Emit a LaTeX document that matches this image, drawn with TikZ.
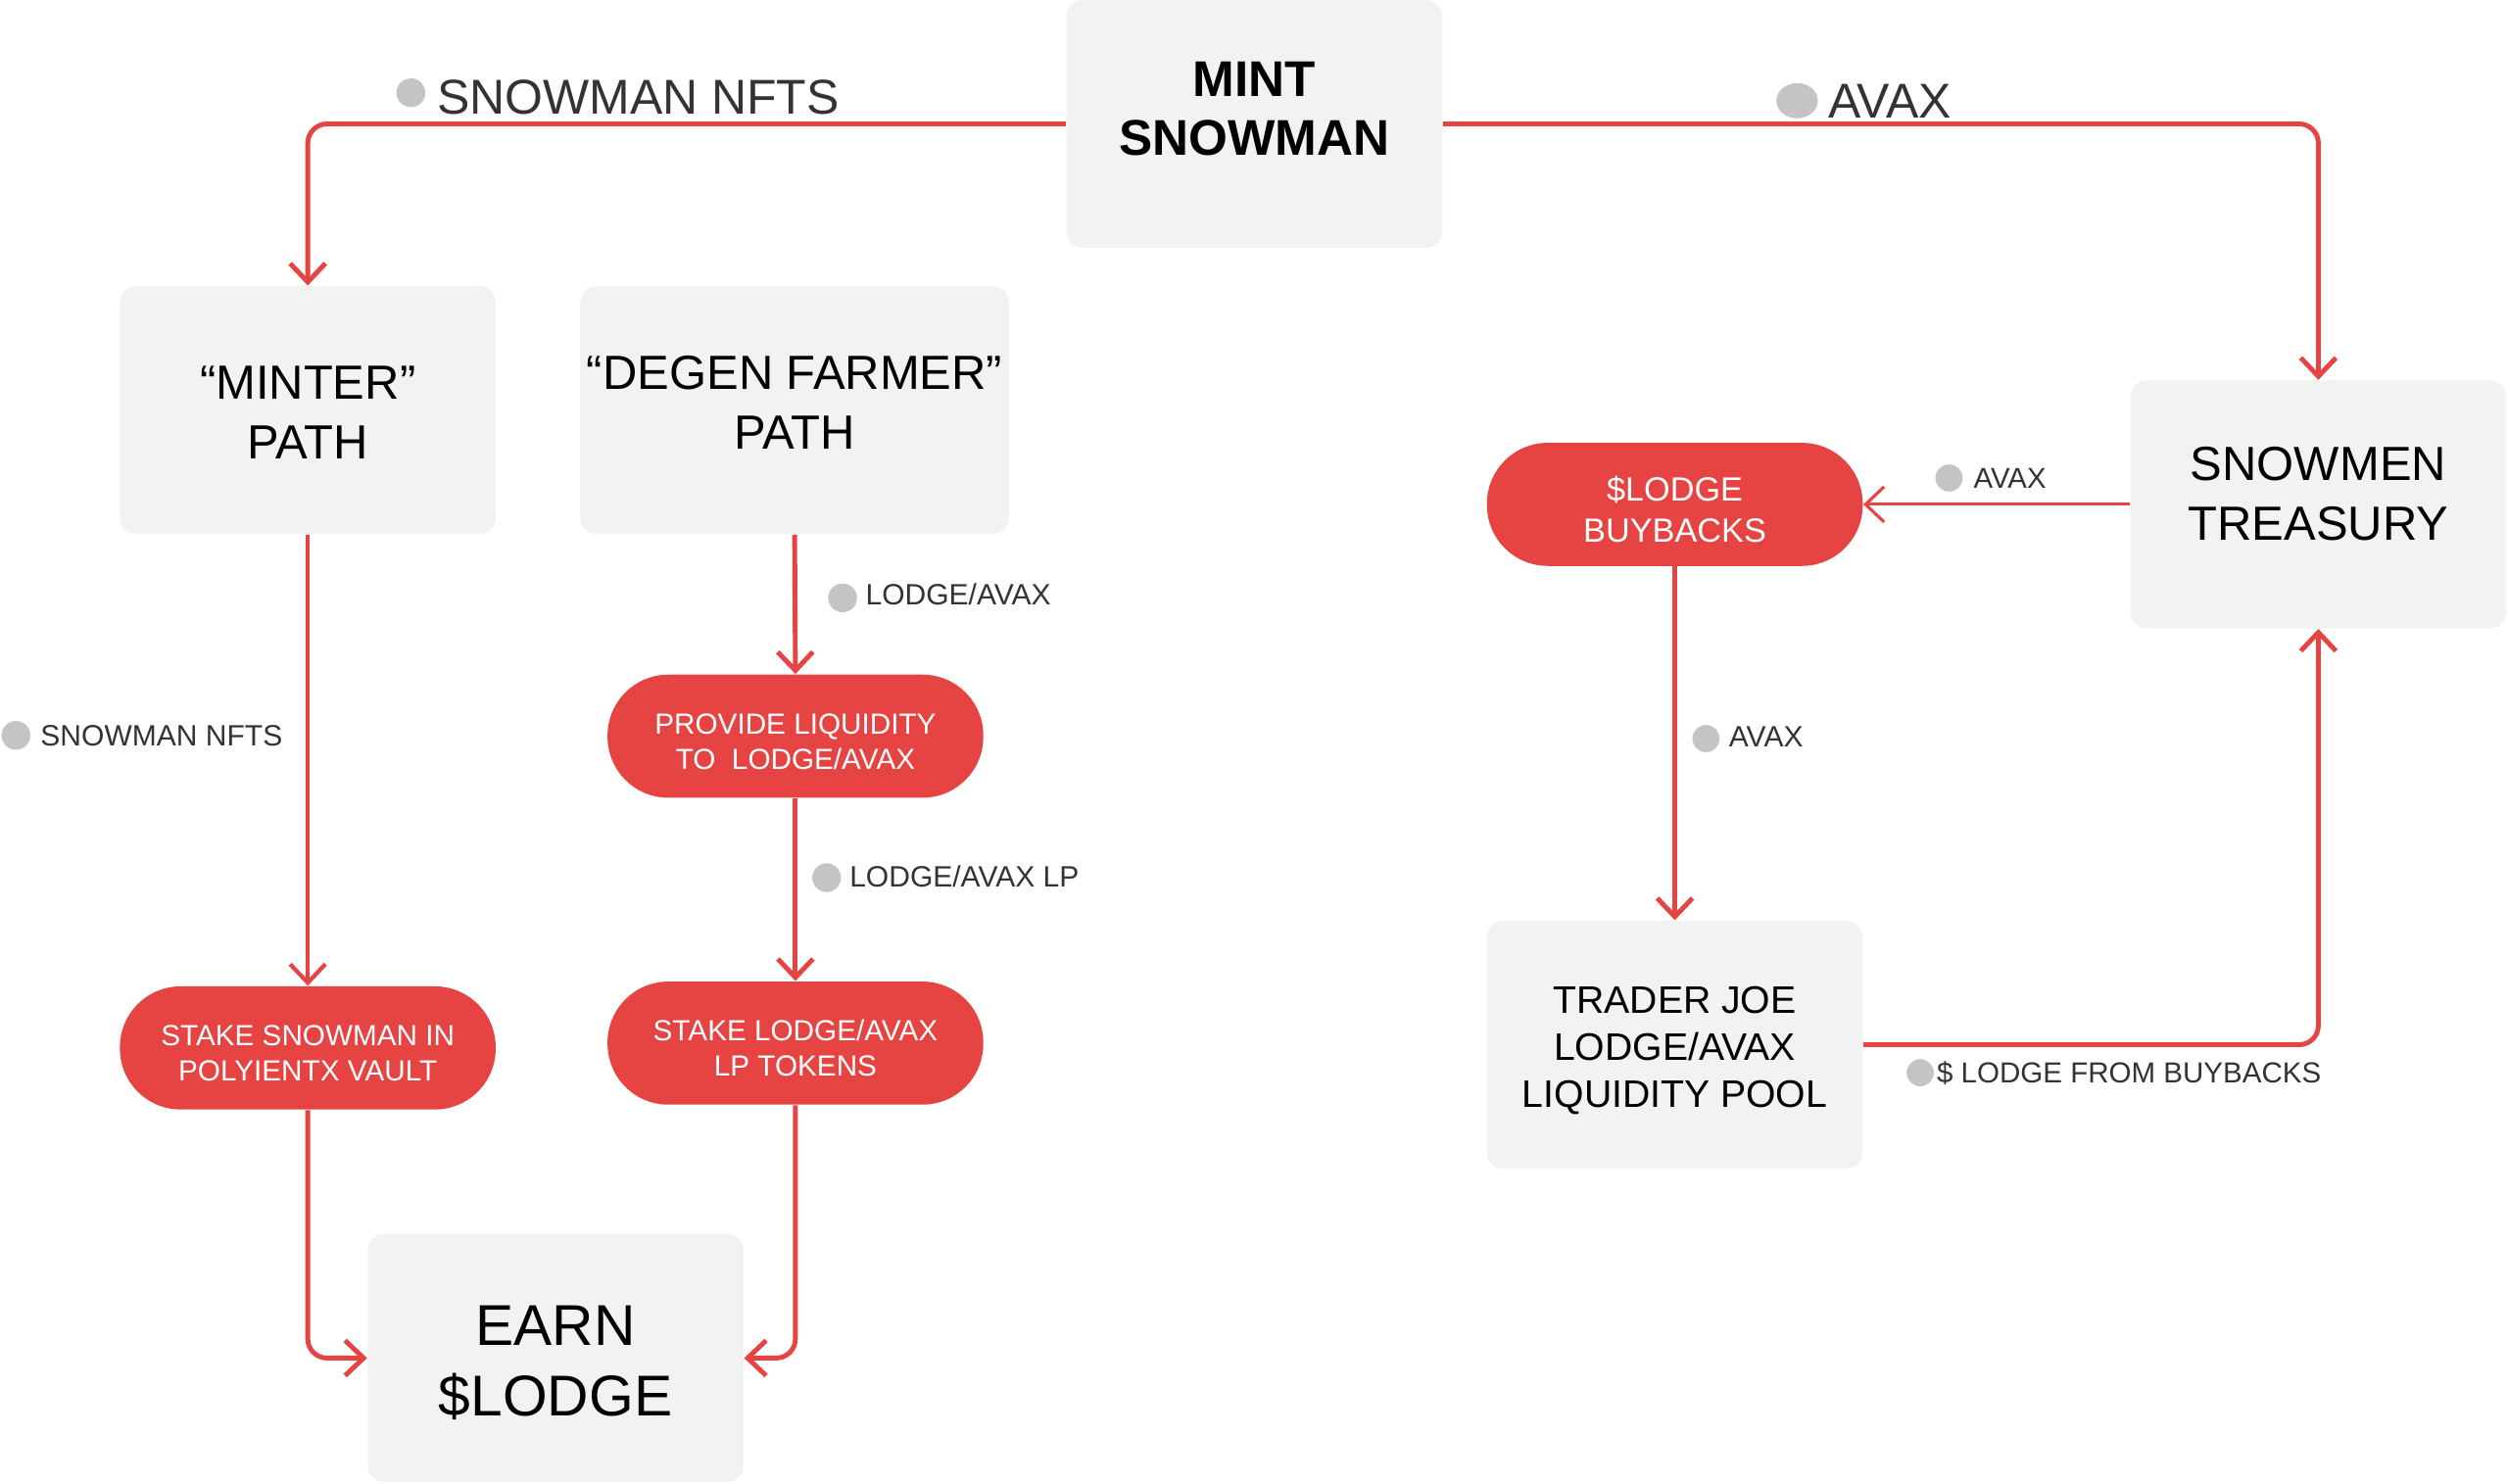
\documentclass[tikz,border=0pt]{standalone}
\usepackage{fontspec}
\setmainfont{Liberation Sans}
\usetikzlibrary{arrows.meta,shapes.geometric}

\definecolor{flowred}{HTML}{E64343}
\definecolor{boxgray}{HTML}{F2F2F2}
\definecolor{dotgray}{HTML}{C4C4C4}
\definecolor{tagtext}{HTML}{333333}

% stacked lines, raised by #1 inside the box
\newcommand{\boxlines}[2]{\raisebox{#1}[\height][\depth]{\begin{tabular}{@{}c@{}}#2\end{tabular}}}

\tikzset{
  graybox/.style={
    fill=boxgray,
    rounded corners=5pt,
    minimum width=117.5pt,
    minimum height=77.5pt,
    inner sep=0pt,
    font=\fontsize{15}{18.5}\selectfont
  },
  redpill/.style={
    fill=flowred,
    rounded corners=19pt,
    minimum width=117.5pt,
    minimum height=38.5pt,
    inner sep=0pt,
    text=white,
    font=\fontsize{9.1}{11}\selectfont
  },
  flow/.style={
    draw=flowred,
    line width=1.5pt,
    rounded corners=6pt,
    -{Straight Barb[length=5.8pt,width=11pt]}
  },
  dot/.style={
    circle,
    fill=dotgray,
    inner sep=0pt,
    minimum size=9pt
  },
  tag/.style={
    anchor=west,
    inner sep=0pt,
    text=tagtext,
    font=\fontsize{9.2}{11}\selectfont
  },
  bigtag/.style={
    tag,
    font=\fontsize{15.3}{18}\selectfont
  }
}

\begin{document}
\begin{tikzpicture}[x=0.5pt, y=-0.5pt]
  \useasboundingbox (0,0) rectangle (1568,928);

  \node[graybox, font=\bfseries\fontsize{15.7}{18.5}\selectfont]
    (mint) at (784.5,77.5) {\boxlines{3.1pt}{MINT\\SNOWMAN}};
  \node[graybox] (minter) at (192.5,256.5) {\boxlines{-2.2pt}{“MINTER”\\PATH}};
  \node[graybox, minimum width=134pt] (degen) at (497,256.5) {\boxlines{0.8pt}{“DEGEN FARMER”\\PATH}};
  \node[graybox] (treasury) at (1450,315.5) {\boxlines{1.8pt}{SNOWMEN\\TREASURY}};
  \node[graybox, font=\fontsize{12}{14.75}\selectfont]
    (trader) at (1047.5,653.5) {\boxlines{-1.9pt}{TRADER JOE\\LODGE/AVAX\\LIQUIDITY POOL}};
  \node[graybox, font=\fontsize{18}{22}\selectfont]
    (earn) at (347.5,849.5) {\boxlines{-2.6pt}{EARN\\\$LODGE}};

  \node[redpill, font=\fontsize{10.5}{13}\selectfont]
    (buyback) at (1047.5,315.5) {\boxlines{-2.7pt}{\$LODGE\\BUYBACKS}};
  \node[redpill] (provide) at (497.5,460.5) {\boxlines{-2.6pt}{PROVIDE LIQUIDITY\\TO~ LODGE/AVAX}};
  \node[redpill] (stakenft) at (192.5,655.5) {\boxlines{-2.6pt}{STAKE SNOWMAN IN\\POLYIENTX VAULT}};
  \node[redpill] (stakelp) at (497.5,652.5) {\boxlines{-2.6pt}{STAKE LODGE/AVAX\\LP TOKENS}};

  \draw[flow] (mint.west) -| (minter.north);
  \draw[flow] (mint.east) -| (treasury.north);
  \draw[flow, line width=1.3pt] (minter.south) -- (stakenft.north);
  \draw[flow] (degen.south) -- (provide.north);
  \draw[flow] (provide.south) -- (stakelp.north);
  \draw[flow] (stakenft.south) |- (earn.west);
  \draw[flow] (stakelp.south) |- (earn.east);
  \draw[flow, line width=0.95pt] (treasury.west) -- (buyback.east);
  \draw[flow] (buyback.south) -- (trader.north);
  \draw[flow] (trader.east) -| (treasury.south);

  \node[dot] (dotnftstop) at (257,58) {};
  \node[bigtag] (nftstop) at (273,61) {SNOWMAN NFTS};
  \node[dot, ellipse, minimum width=13pt, minimum height=11pt] (dotavaxtop) at (1124,63) {};
  \node[bigtag] (avaxtop) at (1143,63) {AVAX};
  \node[dot] (dotnftsleft) at (10,460) {};
  \node[tag] (nftsleft) at (25,460) {SNOWMAN NFTS};
  \node[dot] (dotpair) at (527,374) {};
  \node[tag] (pair) at (541,372) {LODGE/AVAX};
  \node[dot] (dotpairlp) at (517,549) {};
  \node[tag] (pairlp) at (531,548) {LODGE/AVAX LP};
  \node[dot, minimum size=8.5pt] (dotavaxbuy) at (1219,299) {};
  \node[tag, font=\fontsize{9}{11}\selectfont] (avaxbuy) at (1234,299) {AVAX};
  \node[dot, minimum size=8.5pt] (dotavaxpool) at (1067,462) {};
  \node[tag] (avaxpool) at (1081,461) {AVAX};
  \node[dot, minimum size=8.5pt] (dotback) at (1201,671) {};
  \node[tag, font=\fontsize{9.05}{11}\selectfont] (back) at (1211,671) {\$ LODGE FROM BUYBACKS};
\end{tikzpicture}
\end{document}
